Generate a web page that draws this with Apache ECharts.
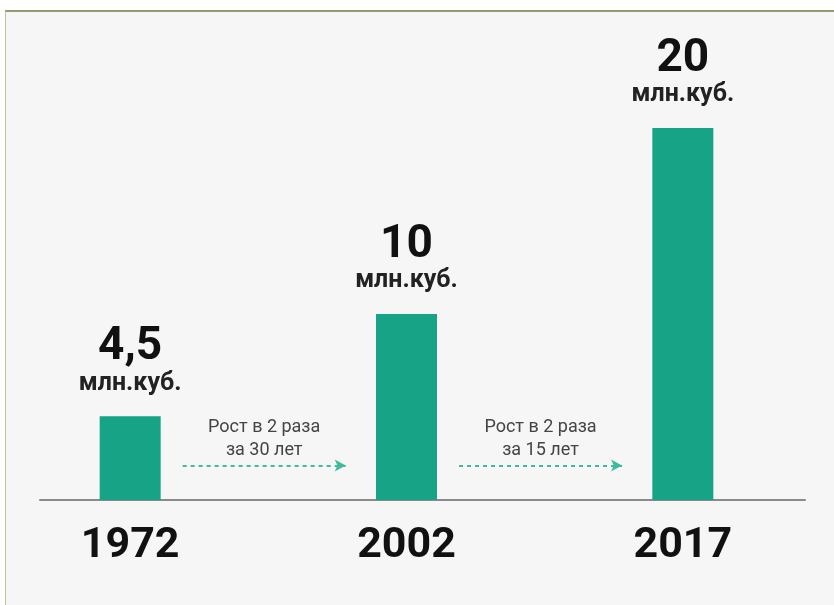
<!DOCTYPE html>
<html>
<head>
<meta charset="utf-8">
<script src="https://cdn.jsdelivr.net/npm/echarts@6/dist/echarts.min.js"></script>
<style>
  html, body { margin: 0; padding: 0; background: #ffffff; overflow: hidden; }
  #frame {
    position: absolute; left: 5px; top: 10px; width: 829px; height: 595px;
    background: #f6f6f6; border-top: 2px solid #8f9d70; border-left: 1px solid #b9c79a;
    box-sizing: border-box;
  }
  #chart { position: absolute; left: -8px; top: 0; width: 842px; height: 605px; }
</style>
</head>
<body>
<div id="frame"></div>
<div id="chart"></div>
<script>
// years and volume, mln cubic metres
var years = ['1972', '2002', '2017']
var volumes = [4.5, 10, 20]
var unitLabel = 'млн.куб.'
// notes shown between the bars
var growthNotes = ['Рост в 2 раза\nза 30 лет', 'Рост в 2 раза\nза 15 лет']

var barColor = '#17a386'
var arrowColor = '#3dbb9c'

let chart = echarts.init(document.getElementById('chart'))

// arrows sit between neighbouring bars, on a hidden value axis aligned with categories
var arrowLines = growthNotes.map(function (note, i) {
  return [
    { coord: [i + 0.19, 1.85], symbol: 'none' },
    { coord: [i + 0.78, 1.85], symbol: 'arrow', label: { formatter: note } }
  ]
})

var option = {
  animation: false,
  grid: [
    { left: 0, right: 13, top: 128, bottom: 105 },
    { left: 48, right: 29, top: 128, bottom: 105 }
  ],
  xAxis: [
    {
      type: 'category',
      gridIndex: 0,
      data: years,
      axisLine: { show: false },
      axisTick: { show: false },
      axisLabel: {
        margin: 25,
        color: '#111',
        fontFamily: 'Roboto',
        fontWeight: 'bold',
        fontSize: 43
      }
    },
    {
      type: 'value',
      gridIndex: 0,
      min: -0.5,
      max: 2.5,
      show: false
    },
    {
      type: 'value',
      gridIndex: 1,
      min: 0,
      max: 1,
      axisLine: { show: true, lineStyle: { color: '#8a8a8a', width: 2 } },
      axisTick: { show: false },
      axisLabel: { show: false },
      splitLine: { show: false }
    }
  ],
  yAxis: [
    { type: 'value', gridIndex: 0, min: 0, max: 20, show: false },
    { type: 'value', gridIndex: 1, min: 0, max: 20, show: false }
  ],
  series: [
    {
      type: 'bar',
      xAxisIndex: 0,
      yAxisIndex: 0,
      data: volumes,
      barWidth: 61,
      itemStyle: { color: barColor },
      z: 3,
      label: {
        show: true,
        position: 'top',
        distance: 17,
        formatter: function (p) {
          return '{v|' + String(p.value).replace('.', ',') + '}\n{u|' + unitLabel + '}'
        },
        rich: {
          v: { fontFamily: 'Roboto', fontWeight: 'bold', fontSize: 46, color: '#111', lineHeight: 40, align: 'center' },
          u: { fontFamily: 'Roboto', fontWeight: 'bold', fontSize: 25, color: '#222', lineHeight: 32, align: 'center' }
        }
      }
    },
    {
      type: 'line',
      xAxisIndex: 1,
      yAxisIndex: 0,
      data: [],
      markLine: {
        silent: true,
        animation: false,
        symbolSize: [9, 11],
        lineStyle: { color: arrowColor, width: 2, type: [4, 4] },
        label: {
          show: true,
          position: 'insideMiddleTop',
          distance: 4,
          color: '#444',
          fontFamily: 'Roboto',
          fontSize: 18,
          lineHeight: 23,
          align: 'center'
        },
        data: arrowLines
      }
    }
  ]
}
chart.setOption(option)
</script>
</body>
</html>
